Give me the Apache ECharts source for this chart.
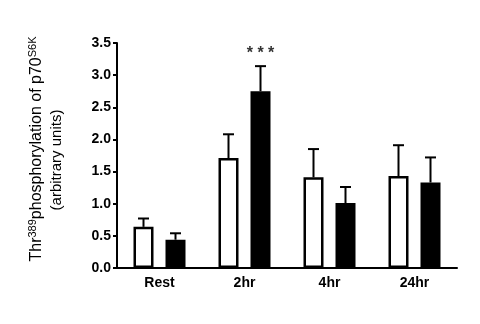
<!DOCTYPE html>
<html><head><meta charset="utf-8">
<script src="https://cdn.jsdelivr.net/npm/echarts@6/dist/echarts.min.js"></script>
<style>html,body{margin:0;padding:0;background:#fff}#c{width:480px;height:324px}</style>
</head><body><div id="c"></div>
<script>
const categories = ['Rest', '2hr', '4hr', '24hr'];
const whiteMean = [0.64, 1.71, 1.41, 1.43];
const whiteSem  = [0.13, 0.37, 0.44, 0.48];
const blackMean = [0.44, 2.75, 1.01, 1.33];
const blackSem  = [0.10, 0.39, 0.25, 0.39];
const sigLabels = ['', '* * *', '', ''];
const yTicks = [0, 0.5, 1.0, 1.5, 2.0, 2.5, 3.0, 3.5];

const FONT = 'Liberation Sans';
const chart = echarts.init(document.getElementById('c'));

function errSeries(means, sems, side, labels) {
  return {
    type: 'custom',
    z: 5,
    data: means.map((m, i) => [i, m, sems[i]]),
    renderItem: function (params, api) {
      const i = api.value(0);
      const base = api.coord([i, api.value(1)]);
      const top = api.coord([i, api.value(1) + api.value(2)]);
      const x = base[0] + side * 16;
      const cap = 5.5;
      const children = [
        { type: 'line', shape: { x1: x, y1: base[1], x2: x, y2: top[1] }, style: { stroke: '#000', lineWidth: 2 } },
        { type: 'line', shape: { x1: x - cap, y1: top[1], x2: x + cap, y2: top[1] }, style: { stroke: '#000', lineWidth: 2 } }
      ];
      const lab = labels ? labels[i] : '';
      if (lab) {
        children.push({ type: 'text', style: { text: lab, x: x, y: top[1] - 13, align: 'center', verticalAlign: 'middle', font: 'bold 16px ' + FONT, fill: '#333' } });
      }
      return { type: 'group', children: children };
    }
  };
}

chart.setOption({
  animation: false,
  grid: { left: 117, right: 23, top: 43, bottom: 56 },
  xAxis: {
    type: 'category', data: categories,
    axisLine: { lineStyle: { color: '#000', width: 2 } },
    axisTick: { alignWithLabel: true, length: 4, lineStyle: { color: '#000', width: 2 } },
    axisLabel: { color: '#000', fontFamily: FONT, fontWeight: 'bold', fontSize: 14, margin: 8 }
  },
  yAxis: {
    type: 'value', min: 0, max: 3.5, interval: 0.5,
    axisLine: { show: true, lineStyle: { color: '#000', width: 2 } },
    axisTick: { show: true, length: 4, lineStyle: { color: '#000', width: 2 } },
    splitLine: { show: false },
    axisLabel: { color: '#000', fontFamily: FONT, fontWeight: 'bold', fontSize: 14, margin: 6,
      formatter: v => yTicks.includes(v) ? v.toFixed(1) : '' }
  },
  series: [
    { type: 'bar', data: whiteMean, barWidth: 20, barGap: '60%', z: 3,
      itemStyle: { color: '#fff', borderColor: '#000', borderWidth: 2.5 } },
    { type: 'bar', data: blackMean, barWidth: 20, z: 3,
      itemStyle: { color: '#000', borderColor: '#000', borderWidth: 2.5 } },
    errSeries(whiteMean, whiteSem, -1, null),
    errSeries(blackMean, blackSem, 1, sigLabels)
  ],
  graphic: [
    { type: 'text', x: 36, y: 149, rotation: Math.PI / 2,
      style: { text: '{a|Thr}{s|389}{a|phosphorylation of p70}{s|S6K}', align: 'center', verticalAlign: 'middle',
        rich: { a: { fontFamily: FONT, fontSize: 16, fill: '#000', verticalAlign: 'bottom' },
                s: { fontFamily: FONT, fontSize: 11, fill: '#000', verticalAlign: 'top', padding: [0, 0, 7, 0] } } } },
    { type: 'text', x: 57, y: 160, rotation: Math.PI / 2,
      style: { text: '(arbitrary units)', align: 'center', verticalAlign: 'middle', font: '15px ' + FONT, fill: '#000' } }
  ]
});
</script></body></html>
